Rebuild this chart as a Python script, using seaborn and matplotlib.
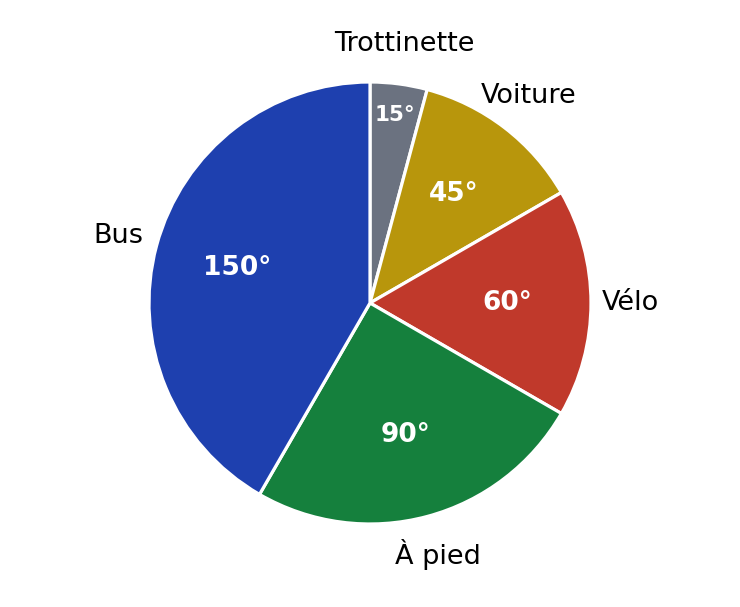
import matplotlib
matplotlib.use("Agg")
import matplotlib.pyplot as plt
import numpy as np
import seaborn as sns

# --- données ---
modes = ["Trottinette", "Voiture", "Vélo", "À pied", "Bus"]
angles = [15, 45, 60, 90, 150]
couleurs = ["#6b7280", "#b8960c", "#c0392b", "#15803d", "#1e40af"]

sns.set_theme(style="white")
plt.rcParams["font.family"] = ["DejaVu Sans"]

fig = plt.figure(figsize=(7.4, 6.07), dpi=100)
fig.set_facecolor("white")
ax = fig.add_axes([0, 0, 1, 1])

wedges, texts = ax.pie(
    angles,
    colors=couleurs,
    startangle=90,
    counterclock=False,
    radius=1,
    labels=None,
    wedgeprops={"edgecolor": "white", "linewidth": 2.3},
)

# étiquettes placées au milieu de chaque secteur
for w, lab, val in zip(wedges, modes, angles):
    mid = np.deg2rad((w.theta1 + w.theta2) / 2)
    cx, cy = np.cos(mid), np.sin(mid)
    ax.text(1.18 * cx, 1.18 * cy, lab, ha="center", va="center",
            fontsize=19.5, color="black")
    petit = val < 30
    d = 0.86 if petit else 0.62
    ax.text(d * cx, d * cy, f"{val}°", ha="center", va="center",
            fontsize=15.5 if petit else 19, fontweight="bold", color="white")

scale = 221
ax.set_xlim(-370 / scale, 370 / scale)
ax.set_ylim(-304 / scale, 303 / scale)
ax.set_aspect("equal")
ax.axis("off")

fig.savefig("out.png", dpi=100, facecolor="white")
